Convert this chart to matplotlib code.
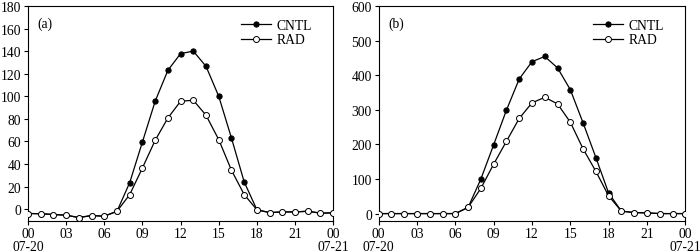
import matplotlib
matplotlib.use("Agg")
import matplotlib.pyplot as plt
import numpy as np

plt.rcParams['font.family'] = ['Liberation Serif', 'DejaVu Serif']

hours = list(range(25))
tick_hours = [0, 3, 6, 9, 12, 15, 18, 21, 24]
tick_labels = ["00\n07-20", "03", "06", "09", "12", "15", "18", "21", "00\n07-21"]

a_cntl = [-3.8, -4.0, -4.7, -5.3, -7.4, -5.6, -6.2, -1.8, 23.6, 59.6, 95.6, 123.0, 137.8,
          140.0, 126.5, 100.0, 63.0, 24.2, -0.5, -3.0, -2.4, -2.4, -1.8, -3.5, -3.2]
a_rad = [-3.8, -4.0, -4.7, -5.3, -7.4, -5.6, -6.2, -1.8, 13.0, 36.6, 61.0, 80.8, 95.6,
         96.5, 83.2, 61.6, 34.5, 13.0, -0.5, -3.0, -2.4, -2.4, -1.8, -3.5, -3.2]

b_cntl = [0, 0, 0, 0, 0, 0, 0, 18, 100, 199, 299, 389, 439,
          454, 421, 358, 262, 162, 59, 7, 3, 2, 0, 0, 0]
b_rad = [0, 0, 0, 0, 0, 0, 0, 18, 73, 143, 209, 275, 320,
         336, 317, 264, 187, 122, 51, 7, 3, 2, 0, 0, 0]

panels = [
    ("(a)", a_cntl, a_rad, (-10, 180), np.arange(0, 181, 20), [0.040, 0.1245, 0.436, 0.848]),
    ("(b)", b_cntl, b_rad, (-20, 600), np.arange(0, 601, 100), [0.541, 0.1245, 0.438, 0.848]),
]

fig = plt.figure(figsize=(7.0, 2.53), dpi=100)
for label, cntl, rad, ylim, yticks, pos in panels:
    ax = fig.add_axes(pos)
    ax.plot(hours, cntl, color='black', lw=0.9, marker='o', ms=3.8,
            mfc='black', mec='black', mew=0.7, label='CNTL', zorder=3)
    ax.plot(hours, rad, color='black', lw=0.9, marker='o', ms=4.3,
            mfc='white', mec='black', mew=0.7, label='RAD', zorder=4)
    ax.set_xlim(0, 24)
    ax.set_ylim(*ylim)
    ax.set_xticks(tick_hours)
    ax.set_xticklabels(tick_labels, fontsize=9.8)
    for t in ax.get_xticklabels():
        t.set_linespacing(1.05)
    ax.set_yticks(yticks)
    ax.tick_params(axis='both', labelsize=9.8, direction='out', length=3, width=0.8)
    ax.tick_params(axis='x', pad=1.5)
    ax.tick_params(axis='y', pad=2)
    for s in ax.spines.values():
        s.set_linewidth(0.8)
    ax.text(0.03, 0.95, label, transform=ax.transAxes, fontsize=9.8, va='top', ha='left')
    ax.legend(loc='upper right', bbox_to_anchor=(0.962, 0.985), frameon=False,
              fontsize=9.8, handlelength=2.2, handletextpad=0.4,
              borderaxespad=0.3, labelspacing=0.12)

fig.savefig('out.png', dpi=100)
